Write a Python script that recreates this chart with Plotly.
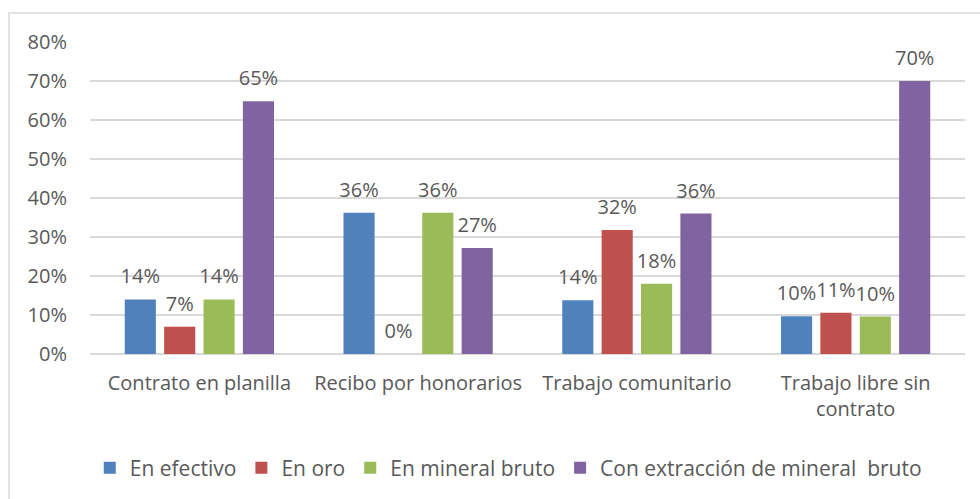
import plotly.graph_objects as go

categories = ["Contrato en planilla", "Recibo por honorarios", "Trabajo comunitario", "Trabajo libre sin<br>contrato"]
series_names = ["En efectivo", "En oro", "En mineral bruto", "Con extracción de mineral  bruto"]
en_efectivo = [0.14, 0.362, 0.138, 0.097]
en_oro = [0.07, 0.0, 0.318, 0.106]
en_mineral = [0.14, 0.362, 0.18, 0.096]
con_extraccion = [0.648, 0.272, 0.36, 0.70]
colors = ["#4F81BD", "#C0504D", "#9BBB59", "#8064A2"]
y_ticks = [0, 0.1, 0.2, 0.3, 0.4, 0.5, 0.6, 0.7, 0.8]

FONT = "Open Sans, sans-serif"
GRAY = "#595959"
FS = 20

fig = go.Figure()
all_series = [en_efectivo, en_oro, en_mineral, con_extraccion]
for name, vals, col in zip(series_names, all_series, colors):
    fig.add_trace(go.Bar(
        name=name, x=categories, y=vals, marker_color=col, marker_line_width=0,
        hoverinfo="skip",
    ))
for name, vals in zip(series_names, all_series):
    fig.add_trace(go.Scatter(
        x=categories, y=vals, mode="markers+text", showlegend=False,
        marker=dict(size=16, color="rgba(0,0,0,0)"),
        texttemplate="%{y:.0%}", textposition="top center", cliponaxis=False,
        textfont=dict(family=FONT, size=FS, color=GRAY), hoverinfo="skip",
    ))

fig.update_layout(
    width=980, height=499,
    margin=dict(l=90, r=15, t=42, b=144),
    paper_bgcolor="white", plot_bgcolor="white",
    barmode="group", bargap=0.28, bargroupgap=0.21,
    scattermode="group", scattergap=0.28,
    font=dict(family=FONT, size=FS, color=GRAY),
    showlegend=True,
    legend=dict(orientation="h", x=0.478, xanchor="center", y=-0.361, yanchor="middle",
                font=dict(family=FONT, size=21, color=GRAY), itemwidth=30,
                traceorder="normal"),
)
fig.update_yaxes(range=[0, 0.8], tickvals=y_ticks, tickformat=".0%", automargin=False,
                 showgrid=True, gridcolor="#D9D9D9", gridwidth=1.5,
                 zeroline=True, zerolinecolor="#D9D9D9", zerolinewidth=1.5,
                 showline=False, ticks="", ticklabelstandoff=22,
                 tickfont=dict(family=FONT, size=FS, color=GRAY))
fig.update_xaxes(showline=False, ticks="", automargin=False, ticklabelstandoff=15,
                 tickfont=dict(family=FONT, size=FS, color=GRAY))

# outer chart border
fig.add_shape(type="rect", xref="paper", yref="paper",
              x0=(9 - 90) / 875, x1=1.05, y0=-0.5, y1=1 + (42 - 13) / 313,
              line=dict(color="#D9D9D9", width=1.5), fillcolor="rgba(0,0,0,0)", layer="below")

fig.write_html("out.html", config={"displayModeBar": False},
               post_script="document.body.style.margin='0';document.body.style.overflow='hidden';")
